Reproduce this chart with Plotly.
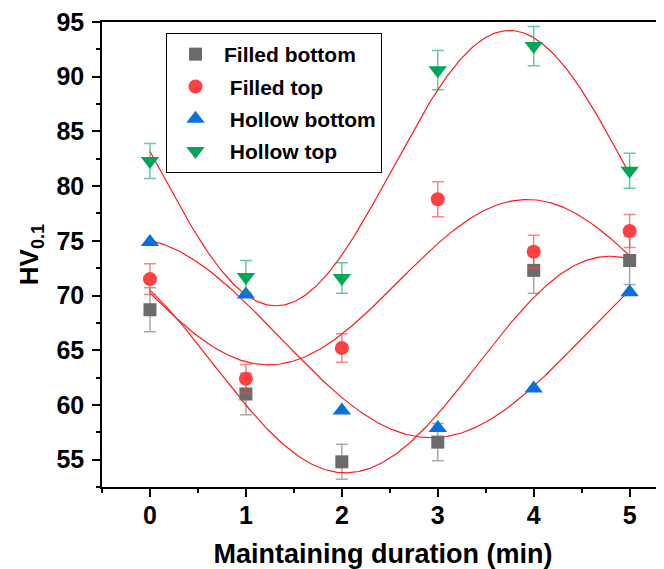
import numpy as np
import plotly.graph_objects as go

durations = [0, 1, 2, 3, 4, 5]
series_names = ["Filled bottom", " Filled top", " Hollow bottom", " Hollow top"]
filled_bottom = [68.7, 61.0, 54.8, 56.6, 72.3, 73.2]
filled_bottom_err = [2.0, 1.9, 1.6, 1.7, 2.1, 2.2]
filled_top = [71.5, 62.4, 65.2, 78.8, 74.0, 75.9]
filled_top_err = [1.4, 1.3, 1.3, 1.6, 1.5, 1.5]
hollow_bottom = [74.9, 70.1, 59.5, 57.9, 61.5, 70.3]
hollow_bottom_err = [0.3, 0.3, 0.3, 0.3, 0.3, 0.3]
hollow_top = [82.3, 71.7, 71.6, 90.6, 92.8, 81.4]
hollow_top_err = [1.6, 1.5, 1.4, 1.8, 1.8, 1.6]

values = [filled_bottom, filled_top, hollow_bottom, hollow_top]
errors = [filled_bottom_err, filled_top_err, hollow_bottom_err, hollow_top_err]
colors = ["#6b6b6b", "#ff4040", "#0a6fe0", "#00a65a"]
err_colors = ["rgba(110,110,110,0.6)", "rgba(255,64,64,0.65)", "rgba(10,111,224,0.0)", "rgba(0,166,90,0.6)"]
symbols = ["square", "circle", "triangle-up", "triangle-down"]
sizes = [13, 14, 16, 16]


def sine_fit(x, y):
    """Least-squares fit y = y0 + A*sin(pi*(x-xc)/w) (Origin 'Sine')."""
    x = np.asarray(x, float)
    y = np.asarray(y, float)
    best = None
    for w in np.linspace(2.0, 4.0, 2001):
        M = np.column_stack([np.ones_like(x), np.sin(np.pi * x / w), np.cos(np.pi * x / w)])
        coef, *_ = np.linalg.lstsq(M, y, rcond=None)
        r = np.sum((M @ coef - y) ** 2)
        if best is None or r < best[0]:
            best = (r, w, coef)
    _, w, coef = best
    return lambda t: coef[0] + coef[1] * np.sin(np.pi * t / w) + coef[2] * np.cos(np.pi * t / w)


fig = go.Figure()

xf = np.linspace(0, 5, 300)
for v in values:
    f = sine_fit(durations, v)
    fig.add_trace(go.Scatter(x=xf, y=f(xf), mode="lines",
                             line=dict(color="#ff1a1a", width=1.2),
                             showlegend=False, hoverinfo="skip"))

for i in range(4):
    fig.add_trace(go.Scatter(
        x=durations, y=values[i], mode="markers", name="<b>" + series_names[i] + "</b>",
        marker=dict(symbol=symbols[i], size=sizes[i], color=colors[i], line=dict(width=0)),
        error_y=dict(type="data", array=errors[i], color=err_colors[i], thickness=1.5, width=6),
        legendgroup=str(i),
    ))

FONT = "Liberation Sans, Arial"
# page body has an 8px margin: figure is shifted accordingly
W, H = 656, 561
L, T, B, R = 94, 14, 82, 0
PW, PH = W - L - R, H - T - B
fig.update_layout(
    width=W, height=H,
    margin=dict(l=L, r=R, t=T, b=B),
    plot_bgcolor="white", paper_bgcolor="white",
    font=dict(family=FONT, color="black"),
    showlegend=True,
    legend=dict(x=(166 - 8 - L) / PW, y=(PH + T - (33 - 8)) / PH, xanchor="left", yanchor="top",
                bordercolor="black", borderwidth=1, bgcolor="white",
                font=dict(family=FONT, size=21, color="black"),
                tracegroupgap=2, itemwidth=47),
)
fig.update_xaxes(
    range=[-0.5, 5.358], tickvals=durations, ticktext=["<b>%d</b>" % d for d in durations],
    automargin=False, ticklabeloverflow="allow",
    showline=True, linecolor="black", linewidth=1.5, mirror=True,
    ticks="outside", ticklen=8, tickwidth=1.5, tickcolor="black",
    minor=dict(dtick=0.5, tick0=-0.5, ticks="outside", ticklen=4, tickwidth=1.5, tickcolor="black"),
    showgrid=False, zeroline=False,
    ticklabelstandoff=-3,
    tickfont=dict(family=FONT, size=25, color="black"),
    title=dict(text="<b>Maintaining duration (min)</b>", standoff=16,
               font=dict(family=FONT, size=27, color="black")),
)
yt = [55, 60, 65, 70, 75, 80, 85, 90, 95]
fig.update_yaxes(
    range=[52.5, 95], tickvals=yt, ticktext=["<b>%d</b>" % v for v in yt],
    automargin=False, ticklabeloverflow="allow",
    showline=True, linecolor="black", linewidth=1.5,
    ticks="outside", ticklen=8, tickwidth=1.5, tickcolor="black",
    minor=dict(dtick=2.5, tick0=52.5, ticks="outside", ticklen=4, tickwidth=1.5, tickcolor="black"),
    showgrid=False, zeroline=False,
    ticklabelstandoff=3,
    tickfont=dict(family=FONT, size=25, color="black"),
    title=dict(text="<b>HV<sub>0.1</sub></b>", standoff=10,
               font=dict(family=FONT, size=26, color="black")),
)

fig.write_html("out.html")
